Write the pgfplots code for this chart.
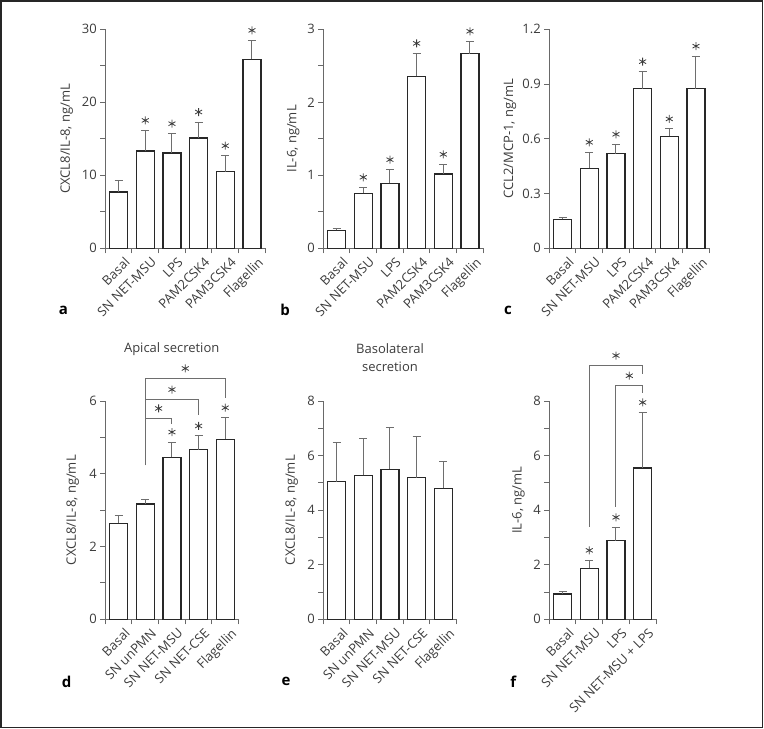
\documentclass[border=0pt]{standalone}
\usepackage{pgfplots}
\pgfplotsset{compat=1.18}
\usepackage{fontspec}
\setmainfont{Open Sans}
\definecolor{axgray}{RGB}{105,105,105}
\definecolor{txtgray}{RGB}{60,60,60}
\definecolor{bargray}{RGB}{40,40,40}
\definecolor{errgray}{RGB}{110,110,110}
\pgfplotsset{
 panel/.style={
  scale only axis, anchor=south west, clip=false,
  axis lines*=left, tick align=outside,
  axis line style={axgray, line width=1pt},
  major tick length=5pt, minor tick length=5pt,
  tick style={axgray, line width=1pt},
  major x tick style={draw=none},
  tick label style={font=\fontsize{13}{15}\selectfont, text=txtgray},
  xticklabel style={font=\fontsize{13}{15}\selectfont, text=txtgray, xshift=5pt, yshift=-1.5pt, rotate=45, anchor=north east, inner sep=1pt},
  yticklabel style={font=\fontsize{13}{15}\selectfont, text=txtgray},
  label style={font=\fontsize{13}{15}\selectfont, text=txtgray},
  ylabel style={anchor=center},
  /pgf/number format/assume math mode=true,
  ymin=0, enlarge y limits=false,
 },
 bars/.style={ybar, bar width=18pt, bar shift=0pt, fill=white, draw=bargray, line width=1.4pt,
  error bars/.cd, y dir=plus, y explicit,
  error bar style={errgray, line width=1pt},
  error mark options={rotate=90, errgray, line width=1pt, mark size=4pt}},
 stars/.style={only marks, mark=asterisk, mark size=4pt,
  mark options={yshift=10pt, line width=0.8pt, draw=txtgray}},
 bracket/.style={errgray, line width=1pt},
}
\begin{document}
\begin{tikzpicture}[x=1pt,y=1pt]
\useasboundingbox (0,0) rectangle (764,729);
\draw[line width=1.5pt, black!85] (0.8,1.7) rectangle (762.7,728.2);

% ---------- a ----------
\begin{axis}[panel, at={(105.3pt,480.7pt)}, width=160pt, height=219pt,
 xmin=-0.5, xmax=5.5, ymax=30,
 xtick={0,...,5}, minor xtick={-0.5,0.5,...,5.5},
 xticklabels={Basal,SN NET-MSU,LPS,PAM2CSK4,PAM3CSK4,Flagellin},
 ytick={0,10,20,30}, minor ytick={5,15,25},
 ylabel={CXCL8/IL-8, ng/mL},
 ylabel style={at={(axis description cs:-0.241,0.5)}}]
\addplot[bars] coordinates {(0,7.69) +- (0,1.65) (1,13.32) +- (0,2.83) (2,13.05) +- (0,2.65)
 (3,15.1) +- (0,2.2) (4,10.52) +- (0,2.16) (5,25.87) +- (0,2.61)};
\addplot[stars] coordinates {(1,16.15) (2,15.7) (3,17.3) (4,12.68) (5,28.48)};
\end{axis}

% ---------- b ----------
\begin{axis}[panel, at={(323.3pt,480.7pt)}, width=160pt, height=219pt,
 xmin=-0.5, xmax=5.5, ymax=3,
 xtick={0,...,5}, minor xtick={-0.5,0.5,...,5.5},
 xticklabels={Basal,SN NET-MSU,LPS,PAM2CSK4,PAM3CSK4,Flagellin},
 ytick={0,1,2,3}, minor ytick={0.5,1.5,2.5},
 ylabel={IL-6, ng/mL},
 ylabel style={at={(axis description cs:-0.1875,0.5)}}]
\addplot[bars] coordinates {(0,0.247) +- (0,0.023) (1,0.753) +- (0,0.083) (2,0.89) +- (0,0.187)
 (3,2.356) +- (0,0.314) (4,1.018) +- (0,0.132) (5,2.666) +- (0,0.17)};
\addplot[stars] coordinates {(1,0.836) (2,1.077) (3,2.67) (4,1.15) (5,2.836)};
\end{axis}

% ---------- c ----------
\begin{axis}[panel, at={(549.3pt,480.7pt)}, width=160pt, height=219pt,
 xmin=-0.5, xmax=5.5, ymax=1.2,
 xtick={0,...,5}, minor xtick={-0.5,0.5,...,5.5},
 xticklabels={Basal,SN NET-MSU,LPS,PAM2CSK4,PAM3CSK4,Flagellin},
 ytick={0,0.3,0.6,0.9,1.2},
 ylabel={CCL2/MCP-1, ng/mL},
 ylabel style={at={(axis description cs:-0.246,0.5)}}]
\addplot[bars] coordinates {(0,0.159) +- (0,0.009) (1,0.438) +- (0,0.088) (2,0.518) +- (0,0.052)
 (3,0.874) +- (0,0.094) (4,0.614) +- (0,0.04) (5,0.874) +- (0,0.179)};
\addplot[stars] coordinates {(1,0.526) (2,0.57) (3,0.968) (4,0.654) (5,1.053)};
\end{axis}

% ---------- d ----------
\begin{axis}[panel, at={(105.3pt,109.7pt)}, width=133.3pt, height=218.3pt,
 xmin=-0.5, xmax=4.5, ymax=6,
 xtick={0,...,4}, minor xtick={-0.5,0.5,...,4.5},
 xticklabels={Basal,SN unPMN,SN NET-MSU,SN NET-CSE,Flagellin},
 ytick={0,2,4,6}, minor ytick={1,3,5},
 ylabel={CXCL8/IL-8, ng/mL},
 ylabel style={at={(axis description cs:-0.245,0.5)}}]
\addplot[bars] coordinates {(0,2.64) +- (0,0.21) (1,3.17) +- (0,0.11) (2,4.45) +- (0,0.42)
 (3,4.66) +- (0,0.38) (4,4.95) +- (0,0.59)};
\addplot[bracket] coordinates {(1,4.23) (1,6.62) (4,6.62) (4,6.07)};
\addplot[bracket] coordinates {(1,6.04) (3,6.04) (3,5.61)};
\addplot[bracket] coordinates {(1,5.52) (2,5.52) (2,5.37)};
\addplot[stars] coordinates {(2,4.87) (3,5.04) (4,5.54) (1.5,5.52) (2,6.04) (2.5,6.62)};
\end{axis}

% ---------- e ----------
\begin{axis}[panel, at={(323.3pt,109.7pt)}, width=133.3pt, height=218.3pt,
 xmin=-0.5, xmax=4.5, ymax=8,
 xtick={0,...,4}, minor xtick={-0.5,0.5,...,4.5},
 xticklabels={Basal,SN unPMN,SN NET-MSU,SN NET-CSE,Flagellin},
 ytick={0,2,4,6,8}, minor ytick={1,3,5,7},
 ylabel={CXCL8/IL-8, ng/mL},
 ylabel style={at={(axis description cs:-0.237,0.5)}}]
\addplot[bars] coordinates {(0,5.04) +- (0,1.43) (1,5.27) +- (0,1.36) (2,5.5) +- (0,1.54)
 (3,5.19) +- (0,1.5) (4,4.8) +- (0,0.97)};
\end{axis}

% ---------- f ----------
\begin{axis}[panel, at={(549.3pt,109.7pt)}, width=106.7pt, height=218.3pt,
 xmin=-0.5, xmax=3.5, ymax=8,
 xtick={0,...,3}, minor xtick={-0.5,0.5,...,3.5},
 xticklabels={Basal,SN NET-MSU,LPS,SN NET-MSU + LPS},
 ytick={0,2,4,6,8}, minor ytick={1,3,5,7},
 ylabel={IL-6, ng/mL},
 ylabel style={at={(axis description cs:-0.29,0.546)}}]
\addplot[bars] coordinates {(0,0.93) +- (0,0.09) (1,1.87) +- (0,0.29) (2,2.88) +- (0,0.49)
 (3,5.54) +- (0,2.04)};
\addplot[bracket] coordinates {(1,3.39) (1,9.3) (3,9.3) (3,9.0)};
\addplot[bracket] coordinates {(2,4.12) (2,8.56) (3,8.56) (3,8.31)};
\addplot[stars] coordinates {(1,2.16) (2,3.37) (3,7.58) (2,9.3) (2.5,8.56)};
\end{axis}

% titles and panel letters
\node[font=\fontsize{13}{15}\selectfont, text=txtgray] at (171.7,380) {Apical secretion};
\node[font=\fontsize{13}{18}\selectfont, text=txtgray, align=center] at (390,371) {Basolateral\\secretion};
\node[font=\fontsize{15}{18}\selectfont\bfseries] at (63.3,419) {a};
\node[font=\fontsize{15}{18}\selectfont\bfseries] at (285,419) {b};
\node[font=\fontsize{15}{18}\selectfont\bfseries] at (508,419) {c};
\node[font=\fontsize{15}{18}\selectfont\bfseries] at (66.7,47.3) {d};
\node[font=\fontsize{15}{18}\selectfont\bfseries] at (286,47.3) {e};
\node[font=\fontsize{15}{18}\selectfont\bfseries] at (513.3,47.3) {f};
\end{tikzpicture}
\end{document}
